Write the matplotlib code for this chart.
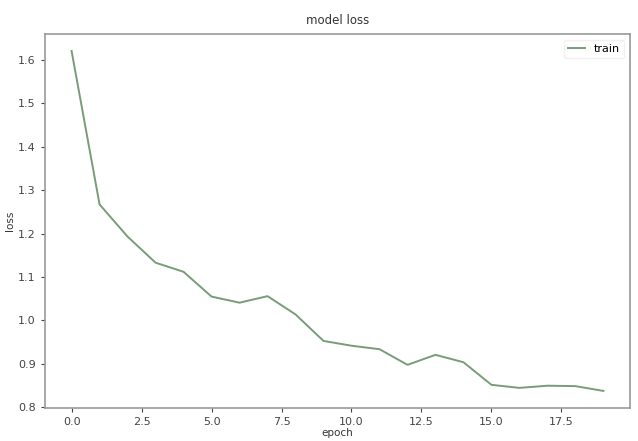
import matplotlib
matplotlib.use("Agg")
import matplotlib.pyplot as plt

epochs = list(range(20))
train_loss = [1.620, 1.267, 1.193, 1.133, 1.112, 1.055, 1.041, 1.056, 1.014, 0.953,
              0.942, 0.934, 0.898, 0.921, 0.904, 0.852, 0.845, 0.850, 0.849, 0.838]
xticks = [0.0, 2.5, 5.0, 7.5, 10.0, 12.5, 15.0, 17.5]
yticks = [0.8, 0.9, 1.0, 1.1, 1.2, 1.3, 1.4, 1.5, 1.6]

fig = plt.figure(figsize=(6.38, 4.41), dpi=100)
ax = fig.add_axes([0.0705, 0.075, 0.917, 0.848])
ax.plot(epochs, train_loss, color="#789c78", linewidth=1.4, label="train")
ax.set_xticks(xticks)
ax.set_yticks(yticks)
ax.set_xticklabels([f"{t:.1f}" for t in xticks])
ax.set_yticklabels([f"{t:.1f}" for t in yticks])
ax.tick_params(labelsize=8, colors="#444444", length=3)
for s in ax.spines.values():
    s.set_color("#999999")
    s.set_linewidth(1.2)
ax.set_title("model loss", fontsize=8.5, color="#333333", pad=7)
ax.set_xlabel("epoch", fontsize=7.5, color="#333333", labelpad=1)
ax.set_ylabel("loss", fontsize=7.5, color="#333333", labelpad=2)
leg = ax.legend(loc="upper right", fontsize=8, frameon=True, handlelength=1.5)
leg.get_frame().set_edgecolor("#eeeeee")
fig.savefig("out.png", dpi=100)
